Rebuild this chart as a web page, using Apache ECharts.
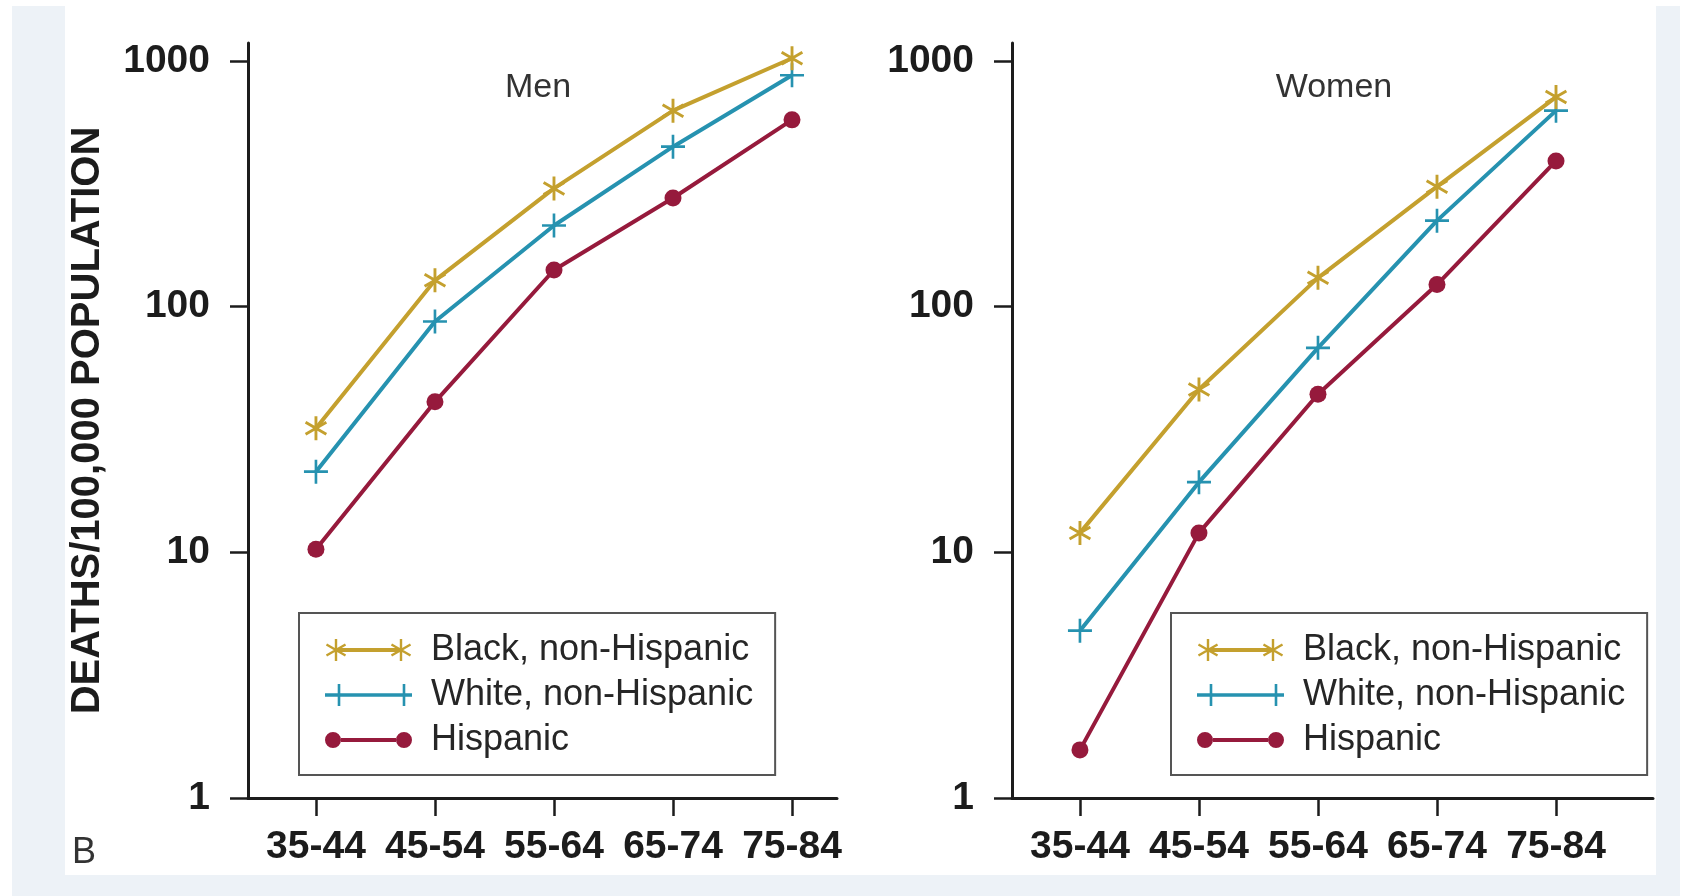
<!DOCTYPE html>
<html>
<head>
<meta charset="utf-8">
<script src="https://cdn.jsdelivr.net/npm/echarts@6/dist/echarts.min.js"></script>
<style>
  html, body { margin: 0; padding: 0; background: #ffffff; }
  #bg1 { position: absolute; left: 12px; top: 6px; width: 1668px; height: 890px; background: #edf2f7; }
  #bg2 { position: absolute; left: 65px; top: 6px; width: 1591px; height: 869px; background: #ffffff; }
  #chart { position: absolute; left: 0; top: 0; width: 1683px; height: 896px; }
</style>
</head>
<body>
<div id="bg1"></div>
<div id="bg2"></div>
<div id="chart"></div>
<script>
// ---- data ----
const categories = ['35-44', '45-54', '55-64', '65-74', '75-84'];
const seriesNames = ['Black, non-Hispanic', 'White, non-Hispanic', 'Hispanic'];
const menBlack = [32, 128, 303, 628, 1026];
const menWhite = [21.3, 87, 214, 448, 875];
const menHispanic = [10.3, 41, 141, 277, 576];
const womenBlack = [12, 46, 131, 308, 713];
const womenWhite = [4.8, 19.3, 68, 224, 628];
const womenHispanic = [1.57, 12, 44, 123, 392];
const yTickValues = [1, 10, 100, 1000];
const panelTitles = ['Men', 'Women'];
const yAxisTitle = 'DEATHS/100,000 POPULATION';
const panelLetter = 'B';

// ---- styles ----
const FONT = '"Liberation Sans", Arial, Helvetica, sans-serif';
const colors = ['#c4a02e', '#2692b0', '#961a3c'];
const axisColor = '#1c1c1c';

// symbol path helpers
function bar(cx, cy, r, w, deg) {
  const a = deg * Math.PI / 180, dx = Math.cos(a), dy = Math.sin(a), px = -dy, py = dx;
  const p = [
    [cx + r * dx + w * px, cy + r * dy + w * py],
    [cx + r * dx - w * px, cy + r * dy - w * py],
    [cx - r * dx - w * px, cy - r * dy - w * py],
    [cx - r * dx + w * px, cy - r * dy + w * py]
  ].map(q => q[0].toFixed(3) + ',' + q[1].toFixed(3));
  return 'M' + p[0] + 'L' + p[1] + 'L' + p[2] + 'L' + p[3] + 'Z';
}
function circle(cx, cy, r) {
  return 'M' + (cx - r) + ',' + cy + 'A' + r + ',' + r + ',0,1,0,' + (cx + r) + ',' + cy +
         'A' + r + ',' + r + ',0,1,0,' + (cx - r) + ',' + cy + 'Z';
}
function asterisk(cx, cy, r, w) { return bar(cx, cy, r, w, 90) + bar(cx, cy, r, w, 30) + bar(cx, cy, r, w, 150); }
function plus(cx, cy, r, w) { return bar(cx, cy, r, w, 0) + bar(cx, cy, r, w, 90); }

const markerSymbols = [
  'path://' + asterisk(0, 0, 10, 1.2),
  'path://' + plus(0, 0, 10, 1.1),
  'circle'
];
const markerSizes = [24, 24, 17];
const legendIcons = [
  'path://' + asterisk(11, 11, 11, 1.2) + bar(43.5, 11, 32.5, 2, 0) + asterisk(76, 11, 11, 1.2),
  'path://' + bar(43.5, 11, 43.5, 1.8, 0) + bar(14, 11, 11, 1.3, 90) + bar(79, 11, 11, 1.3, 90),
  'path://' + circle(8, 8, 8) + bar(43.5, 8, 27.5, 2, 0) + circle(79, 8, 8)
];

const panels = [
  { values: [menBlack, menWhite, menHispanic], left: 248, width: 589, xMax: 4.378, legendLeft: 299 },
  { values: [womenBlack, womenWhite, womenHispanic], left: 1012, width: 641, xMax: 4.815, legendLeft: 1171 }
];
const xMin = -0.571;

const grid = [], xAxis = [], yAxis = [], series = [], legend = [];
panels.forEach((p, gi) => {
  grid.push({ left: p.left, top: 43, width: p.width, height: 755 });
  xAxis.push({
    type: 'value', gridIndex: gi, min: xMin, max: p.xMax,
    axisLine: { show: true, onZero: false, lineStyle: { color: axisColor, width: 3 } },
    axisTick: { show: true, customValues: categories.map((c, i) => i), length: 18, lineStyle: { color: axisColor, width: 2.5 } },
    axisLabel: {
      customValues: categories.map((c, i) => i),
      formatter: v => categories[Math.round(v)],
      margin: 30, fontSize: 39, fontWeight: 'bold', color: axisColor, fontFamily: FONT
    },
    splitLine: { show: false }
  });
  yAxis.push({
    type: 'log', logBase: 10, gridIndex: gi, min: 1, max: 1184,
    name: gi === 0 ? yAxisTitle : '',
    nameLocation: 'middle', nameGap: 140, nameRotate: 90,
    nameTextStyle: { fontSize: 40, fontWeight: 'bold', color: axisColor, fontFamily: FONT },
    axisLine: { show: true, onZero: false, lineStyle: { color: axisColor, width: 3 } },
    axisTick: { show: true, customValues: yTickValues, length: 18, lineStyle: { color: axisColor, width: 2.5 } },
    axisLabel: {
      customValues: yTickValues, formatter: v => String(v),
      margin: 38, fontSize: 39, fontWeight: 'bold', color: axisColor, fontFamily: FONT
    },
    splitLine: { show: false }
  });
  p.values.forEach((vals, si) => {
    series.push({
      type: 'line', name: seriesNames[si], xAxisIndex: gi, yAxisIndex: gi,
      data: vals.map((v, i) => [i, v]),
      symbol: markerSymbols[si], symbolSize: markerSizes[si], symbolKeepAspect: true,
      showAllSymbol: true,
      lineStyle: { color: colors[si], width: 4 },
      itemStyle: { color: colors[si], borderWidth: 0 },
      z: 10 - si
    });
  });
  legend.push({
    orient: 'vertical', left: p.legendLeft, top: 613,
    padding: [19, 22, 17, 26],
    itemWidth: 87, itemHeight: 22, itemGap: 9,
    backgroundColor: '#ffffff', borderColor: '#555555', borderWidth: 2,
    itemStyle: { borderWidth: 0 },
    textStyle: { fontSize: 36, color: '#262626', fontFamily: FONT, lineHeight: 36, padding: [0, 0, 0, 14] },
    data: seriesNames.map((n, si) => ({ name: n, icon: legendIcons[si] }))
  });
});

const option = {
  animation: false,
  backgroundColor: 'transparent',
  grid, xAxis, yAxis, series, legend,
  graphic: [
    { type: 'text', x: 538, y: 88, style: { text: panelTitles[0], fontSize: 34, fontFamily: FONT, fill: '#333333', align: 'center', verticalAlign: 'middle' } },
    { type: 'text', x: 1334, y: 88, style: { text: panelTitles[1], fontSize: 34, fontFamily: FONT, fill: '#333333', align: 'center', verticalAlign: 'middle' } },
    { type: 'text', x: 72, y: 853, style: { text: panelLetter, fontSize: 36, fontFamily: FONT, fill: '#333333', align: 'left', verticalAlign: 'middle' } }
  ]
};

const chart = echarts.init(document.getElementById('chart'), null, { renderer: 'canvas' });
chart.setOption(option);
</script>
</body>
</html>
